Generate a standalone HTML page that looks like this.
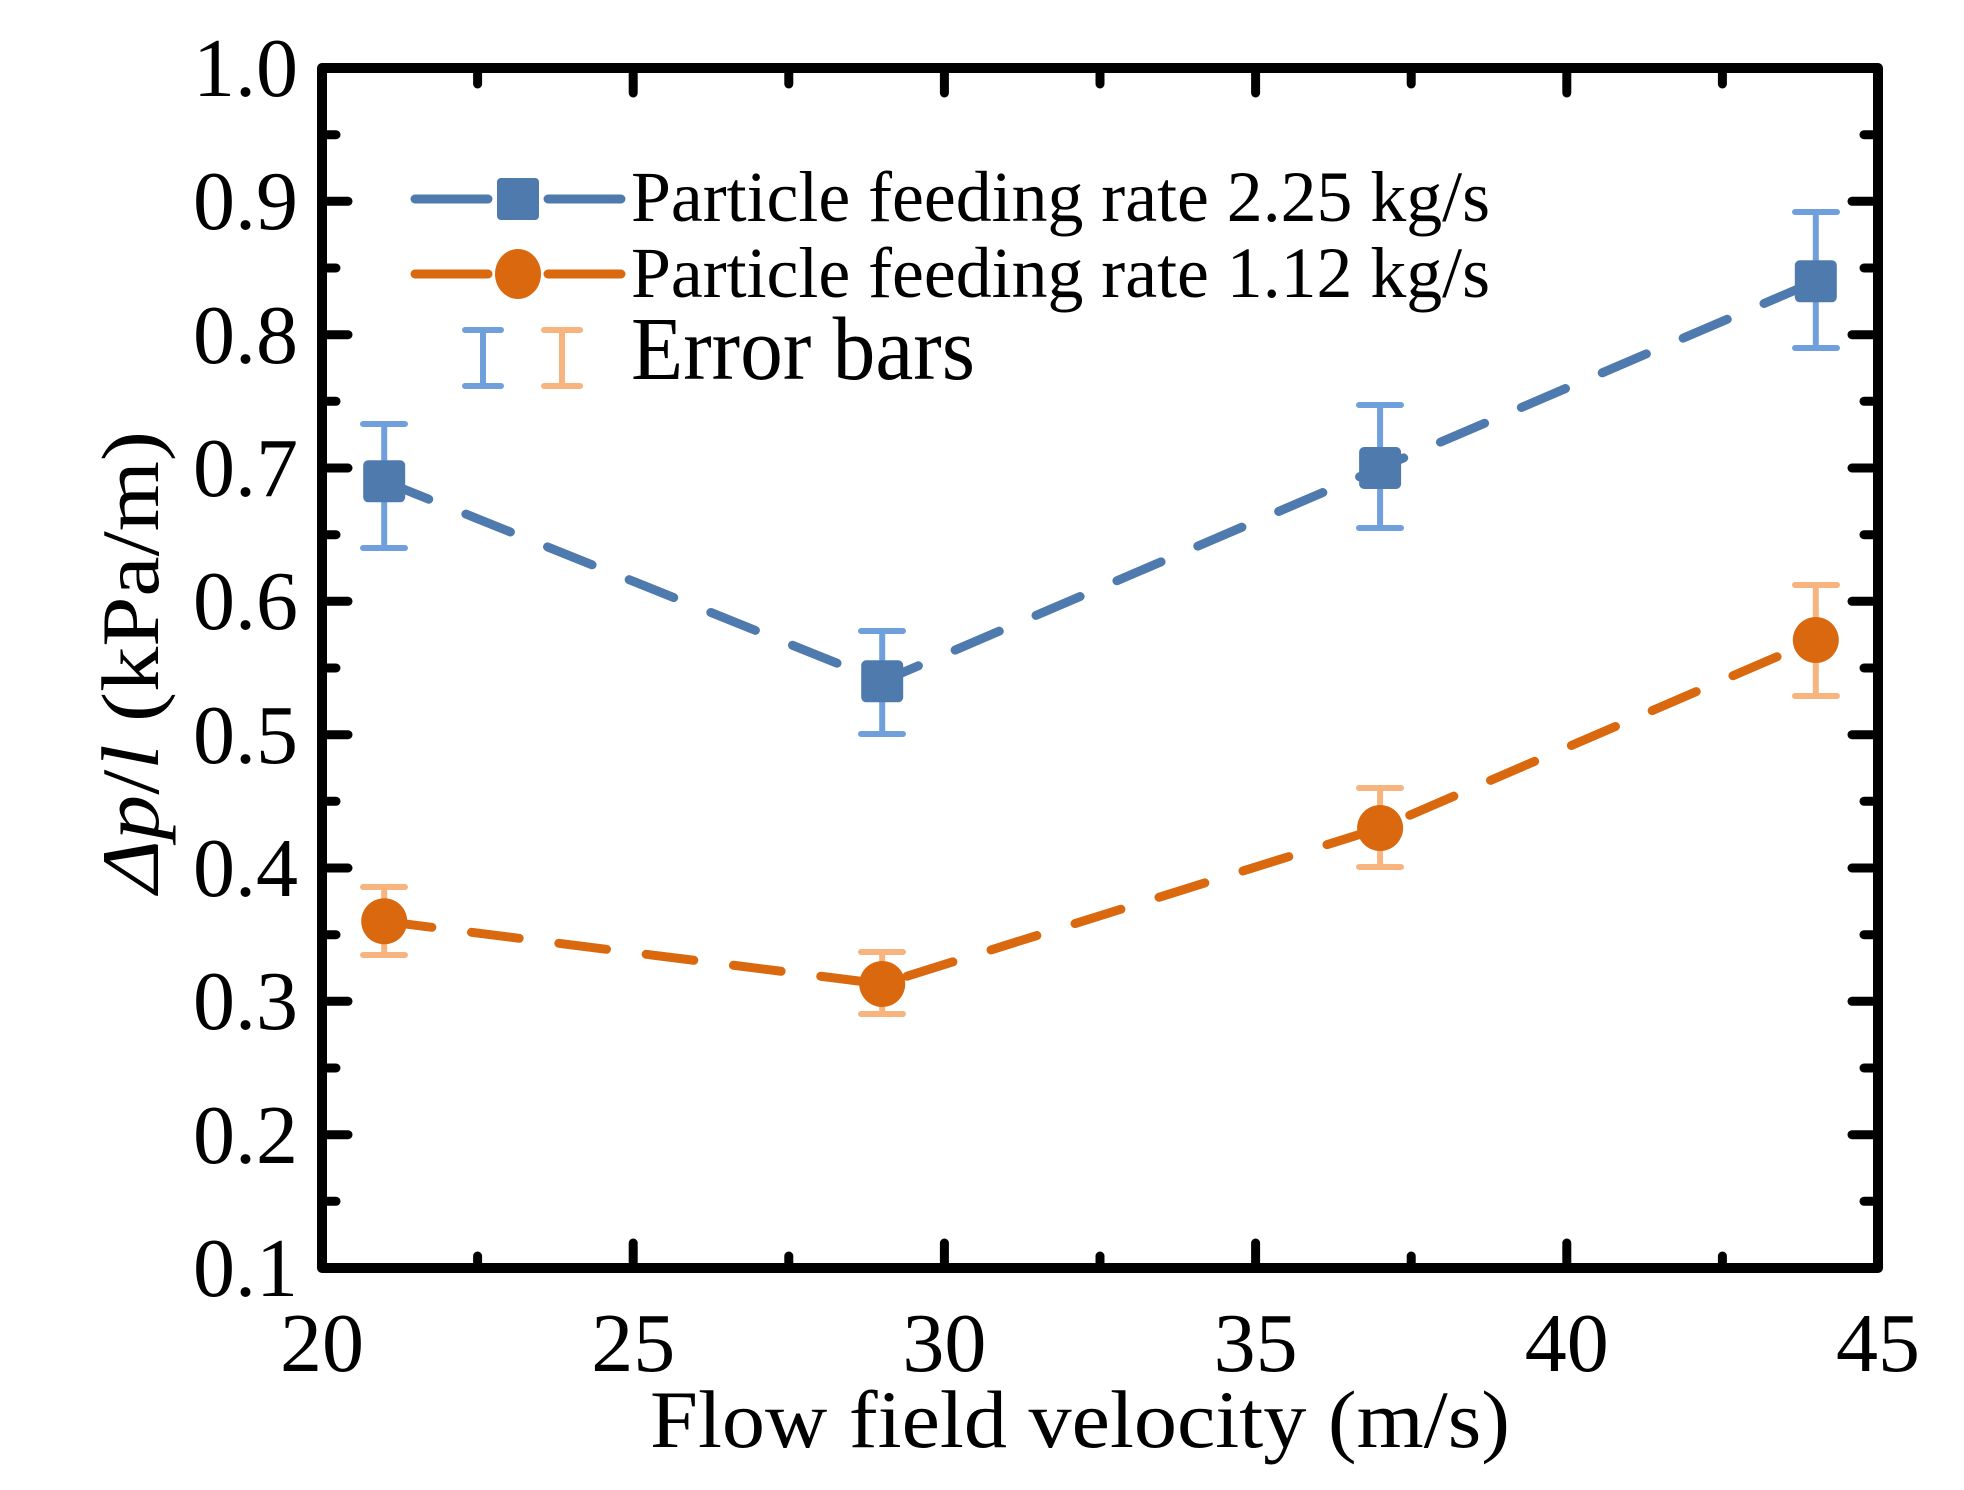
<!DOCTYPE html>
<html><head><meta charset="utf-8"><style>html,body{margin:0;padding:0;background:#fff}svg{display:block}</style></head>
<body>
<svg width="1964" height="1490" viewBox="0 0 1964 1490" xmlns="http://www.w3.org/2000/svg" font-family="'Liberation Serif', serif">
<rect width="1964" height="1490" fill="#fff"/>
<g stroke="#000" stroke-width="9" stroke-linecap="round">
<line x1="322" y1="1268" x2="322" y2="1240"/><line x1="633.2" y1="1268" x2="633.2" y2="1243"/><line x1="944.4" y1="1268" x2="944.4" y2="1243"/><line x1="1255.6" y1="1268" x2="1255.6" y2="1243"/><line x1="1566.8" y1="1268" x2="1566.8" y2="1243"/>
<line x1="477.6" y1="1268" x2="477.6" y2="1256"/><line x1="788.8" y1="1268" x2="788.8" y2="1256"/><line x1="1100" y1="1268" x2="1100" y2="1256"/><line x1="1411.2" y1="1268" x2="1411.2" y2="1256"/><line x1="1722.4" y1="1268" x2="1722.4" y2="1256"/>
<line x1="633.2" y1="68" x2="633.2" y2="93"/><line x1="944.4" y1="68" x2="944.4" y2="93"/><line x1="1255.6" y1="68" x2="1255.6" y2="93"/><line x1="1566.8" y1="68" x2="1566.8" y2="93"/>
<line x1="477.6" y1="68" x2="477.6" y2="84"/><line x1="788.8" y1="68" x2="788.8" y2="84"/><line x1="1100" y1="68" x2="1100" y2="84"/><line x1="1411.2" y1="68" x2="1411.2" y2="84"/><line x1="1722.4" y1="68" x2="1722.4" y2="84"/>
</g>
<g stroke="#000" stroke-width="9" stroke-linecap="round" id="yt">
<line x1="322" y1="201.3" x2="348" y2="201.3"/><line x1="322" y1="334.7" x2="348" y2="334.7"/><line x1="322" y1="468" x2="348" y2="468"/><line x1="322" y1="601.3" x2="348" y2="601.3"/><line x1="322" y1="734.7" x2="348" y2="734.7"/><line x1="322" y1="868" x2="348" y2="868"/><line x1="322" y1="1001.3" x2="348" y2="1001.3"/><line x1="322" y1="1134.7" x2="348" y2="1134.7"/>
<line x1="322" y1="134.7" x2="336" y2="134.7"/><line x1="322" y1="268" x2="336" y2="268"/><line x1="322" y1="401.3" x2="336" y2="401.3"/><line x1="322" y1="534.7" x2="336" y2="534.7"/><line x1="322" y1="668" x2="336" y2="668"/><line x1="322" y1="801.3" x2="336" y2="801.3"/><line x1="322" y1="934.7" x2="336" y2="934.7"/><line x1="322" y1="1068" x2="336" y2="1068"/><line x1="322" y1="1201.3" x2="336" y2="1201.3"/>
</g>
<use href="#yt" transform="translate(2200,0) scale(-1,1)"/>
<rect x="322" y="68" width="1556" height="1200" fill="none" stroke="#000" stroke-width="10" stroke-linejoin="round"/>
<g font-size="84" text-anchor="end" fill="#000">
<text x="298" y="96">1.0</text><text x="298" y="229">0.9</text><text x="298" y="363">0.8</text><text x="298" y="496">0.7</text><text x="298" y="629">0.6</text><text x="298" y="763">0.5</text><text x="298" y="896">0.4</text><text x="298" y="1029">0.3</text><text x="298" y="1163">0.2</text><text x="298" y="1296">0.1</text>
</g>
<g font-size="84" text-anchor="middle" fill="#000">
<text x="322" y="1371">20</text><text x="633.2" y="1371">25</text><text x="944.4" y="1371">30</text><text x="1255.6" y="1371">35</text><text x="1566.8" y="1371">40</text><text x="1878" y="1371">45</text>
</g>
<text x="1080" y="1447" font-size="82" text-anchor="middle" textLength="860" lengthAdjust="spacingAndGlyphs">Flow field velocity (m/s)</text>
<text transform="translate(158,662) rotate(-90)" font-size="82" text-anchor="middle" textLength="462" lengthAdjust="spacingAndGlyphs"><tspan font-style="italic">Δp</tspan><tspan>/</tspan><tspan font-style="italic">l</tspan> (kPa/m)</text>
<g stroke="#70a0dc" stroke-width="6" stroke-linecap="round">
<path d="M384.2 424V548M363 424H405M363 548H405"/>
<path d="M882.2 631V734M861 631H903M861 734H903"/>
<path d="M1380.1 405V528M1359 405H1401M1359 528H1401"/>
<path d="M1815.8 212V348M1795 212H1837M1795 348H1837"/>
</g>
<g stroke="#f8b47e" stroke-width="6" stroke-linecap="round">
<path d="M384.2 887V955M363 887H405M363 955H405"/>
<path d="M882.2 952V1014M861 952H903M861 1014H903"/>
<path d="M1380.1 788V867M1359 788H1401M1359 867H1401"/>
<path d="M1815.8 585V696M1795 585H1837M1795 696H1837"/>
</g>
<polyline points="384.2,481.3 882.2,681.3 1380.1,468 1815.8,281.3" fill="none" stroke="#4f7aad" stroke-width="9" stroke-linecap="round" stroke-dasharray="48 40"/>
<polyline points="384.2,921.3 882.2,984 1380.1,828 1815.8,640" fill="none" stroke="#d9680e" stroke-width="9" stroke-linecap="round" stroke-dasharray="48 40"/>
<g fill="#4f7aad">
<rect x="363.2" y="460.3" width="42" height="42" rx="5"/><rect x="861.2" y="660.3" width="42" height="42" rx="5"/><rect x="1359.1" y="447" width="42" height="42" rx="5"/><rect x="1794.8" y="260.3" width="42" height="42" rx="5"/>
</g>
<g fill="#d9680e">
<circle cx="384.2" cy="921.3" r="23"/><circle cx="882.2" cy="984" r="23"/><circle cx="1380.1" cy="828" r="23"/><circle cx="1815.8" cy="640" r="23"/>
</g>
<g stroke-width="9" stroke-linecap="round">
<path d="M415 199H488M548 199H621" stroke="#4f7aad"/>
<path d="M415 274H488M548 274H621" stroke="#d9680e"/>
</g>
<rect x="497" y="178" width="42" height="42" rx="4" fill="#4f7aad"/>
<ellipse cx="518" cy="274" rx="23" ry="25" fill="#d9680e"/>
<path d="M483 330V386M465 330H501M465 386H501" stroke="#70a0dc" stroke-width="6" stroke-linecap="round"/>
<path d="M562 330V386M544 330H580M544 386H580" stroke="#f8b47e" stroke-width="6" stroke-linecap="round"/>
<g font-size="72" fill="#000">
<text x="631" y="221" textLength="859" lengthAdjust="spacingAndGlyphs">Particle feeding rate 2.25 kg/s</text>
<text x="631" y="297" textLength="859" lengthAdjust="spacingAndGlyphs">Particle feeding rate 1.12 kg/s</text>
</g>
<text x="631" y="379" font-size="90" textLength="344" lengthAdjust="spacingAndGlyphs">Error bars</text>
</svg>
</body></html>
